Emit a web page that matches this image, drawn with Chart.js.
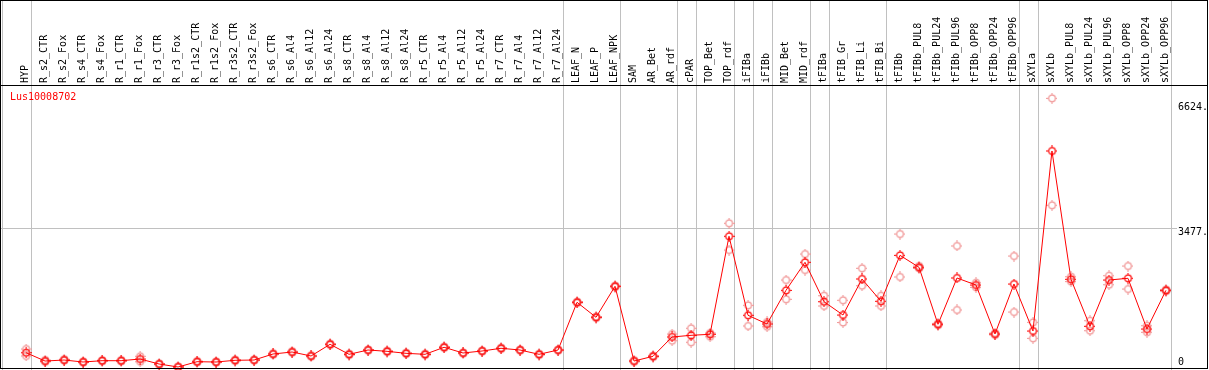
<!DOCTYPE html>
<html>
<head>
<meta charset="utf-8">
<script src="https://cdn.jsdelivr.net/npm/chart.js@4.4.1/dist/chart.umd.min.js"></script>
<style>
  body { margin: 0; background: #fff; }
  #wrap { width: 1209px; height: 370px; }
</style>
</head>
<body>
<div id="wrap"><canvas id="chart" width="1209" height="370"></canvas></div>
<script>
const geneName = 'Lus10008702';

const categories = [
  'HYP', 'R_s2_CTR', 'R_s2_Fox', 'R_s4_CTR', 'R_s4_Fox', 'R_r1_CTR', 'R_r1_Fox', 'R_r3_CTR', 'R_r3_Fox',
  'R_r1s2_CTR', 'R_r1s2_Fox', 'R_r3s2_CTR', 'R_r3s2_Fox', 'R_s6_CTR', 'R_s6_Al4', 'R_s6_Al12', 'R_s6_Al24',
  'R_s8_CTR', 'R_s8_Al4', 'R_s8_Al12', 'R_s8_Al24', 'R_r5_CTR', 'R_r5_Al4', 'R_r5_Al12', 'R_r5_Al24',
  'R_r7_CTR', 'R_r7_Al4', 'R_r7_Al12', 'R_r7_Al24', 'LEAF_N', 'LEAF_P', 'LEAF_NPK', 'SAM', 'AR_Bet', 'AR_rdf',
  'cPAR', 'TOP_Bet', 'TOP_rdf', 'iFIBa', 'iFIBb', 'MID_Bet', 'MID_rdf', 'tFIBa', 'tFIB_Gr', 'tFIB_Li', 'tFIB_Bi',
  'tFIBb', 'tFIBb_PUL8', 'tFIBb_PUL24', 'tFIBb_PUL96', 'tFIBb_OPP8', 'tFIBb_OPP24', 'tFIBb_OPP96',
  'sXYLa', 'sXYLb', 'sXYLb_PUL8', 'sXYLb_PUL24', 'sXYLb_PUL96', 'sXYLb_OPP8', 'sXYLb_OPP24', 'sXYLb_OPP96'
];

// mean expression (red line)
const meanValues = [
  358, 150, 175, 125, 158, 158, 200, 75, 0,
  133, 125, 168, 175, 326, 376, 276, 569,
  318, 426, 393, 343, 318, 494, 351, 401,
  469, 426, 318, 426, 1622, 1246, 2023, 150, 268, 752,
  794, 820, 3276, 1296, 1078, 1922, 2624, 1637, 1303, 2206, 1647,
  2799, 2499, 1070, 2231, 2055, 827, 2080,
  902, 5414, 2198, 1020, 2180, 2223, 952, 1922
];

// replicates (pink circles)
const rep1 = [
  451, 175, 195, 140, 170, 175, 268, 90, 15,
  150, 140, 185, 190, 345, 395, 295, 585,
  335, 440, 410, 360, 335, 510, 365, 415,
  485, 440, 335, 440, 1640, 1265, 2040, 170, 285, 827,
  970, 852, 3602, 1546, 1128, 2180, 2832, 1787, 1672, 2474, 1787,
  3333, 2530, 1095, 3033, 2113, 850, 2782,
  1120, 6734, 2263, 1160, 2288, 2531, 1035, 1945
];
const rep2 = [
  276, 130, 160, 110, 145, 140, 132, 60, 0,
  118, 110, 150, 160, 310, 360, 260, 552,
  300, 410, 376, 326, 300, 478, 336, 386,
  452, 410, 300, 410, 1605, 1228, 2005, 130, 250, 659,
  619, 759, 2932, 1028, 1010, 1697, 2431, 1529, 1115, 2038, 1529,
  2256, 2470, 1045, 1429, 1997, 805, 1378,
  719, 4053, 2140, 910, 2063, 1955, 870, 1900
];

// index of the last category in each group (separator lines)
const groupEnds = [0, 28, 31, 34, 35, 37, 38, 39, 41, 42, 45, 52, 53, 60];
const axisTicks = [6624, 3477, 0];
const gridValues = [3477];

// small open circle with four tick marks
function markerImage(color) {
  const c = document.createElement('canvas');
  c.width = 11; c.height = 11;
  const g = c.getContext('2d');
  g.strokeStyle = color;
  g.lineWidth = 1.2;
  g.beginPath();
  g.arc(5.5, 5.5, 3.4, 0, Math.PI * 2);
  g.stroke();
  g.lineWidth = 1;
  g.beginPath();
  g.moveTo(5.5, 0); g.lineTo(5.5, 1.8);
  g.moveTo(5.5, 9.2); g.lineTo(5.5, 11);
  g.moveTo(0, 5.5); g.lineTo(1.8, 5.5);
  g.moveTo(9.2, 5.5); g.lineTo(11, 5.5);
  g.stroke();
  return c;
}

const redMark = markerImage('#ff0000');
const pinkMark = markerImage('#f09494');

const toPoints = (arr) => arr.map((v, i) => ({ x: i, y: v }));

const FONT = '10px "DejaVu Sans Mono", monospace';

const framePlugin = {
  id: 'frame',
  beforeDatasetsDraw(c) {
    const ctx = c.ctx;
    const xs = c.scales.x, ys = c.scales.y;
    const area = c.chartArea;
    ctx.save();
    ctx.strokeStyle = '#c0c0c0';
    ctx.lineWidth = 1;
    // separators between sample groups
    const seps = [-1.25].concat(groupEnds.map(i => i + 0.25));
    seps.forEach(v => {
      const px = Math.round(xs.getPixelForValue(v)) + 0.5;
      ctx.beginPath();
      ctx.moveTo(px, 0);
      ctx.lineTo(px, c.height);
      ctx.stroke();
    });
    gridValues.forEach(v => {
      const py = Math.round(ys.getPixelForValue(v)) + 0.5;
      ctx.beginPath();
      ctx.moveTo(area.left, py);
      ctx.lineTo(1177, py);
      ctx.stroke();
    });
    ctx.restore();
  },
  afterDraw(c) {
    const ctx = c.ctx;
    const xs = c.scales.x, ys = c.scales.y;
    ctx.save();
    ctx.font = FONT;
    ctx.fillStyle = '#000';
    // rotated sample labels
    categories.forEach((name, i) => {
      const px = xs.getPixelForValue(i);
      ctx.save();
      ctx.translate(px - 0.5, 83);
      ctx.rotate(-Math.PI / 2);
      ctx.textAlign = 'left';
      ctx.textBaseline = 'middle';
      ctx.fillText(name, 0, 0);
      ctx.restore();
    });
    // right-hand value labels
    ctx.textAlign = 'left';
    ctx.textBaseline = 'middle';
    axisTicks.forEach(v => {
      let py = ys.getPixelForValue(v) + 4.5;
      if (v === 0) py = ys.getPixelForValue(v) - 5;
      ctx.fillText(v === 0 ? '0' : v + '.', 1178, py);
    });
    // gene name
    ctx.fillStyle = '#ff0000';
    ctx.fillText(geneName, 10, 97);
    // black frame
    ctx.strokeStyle = '#000';
    ctx.lineWidth = 1;
    ctx.beginPath();
    ctx.moveTo(0, 0.5); ctx.lineTo(1208, 0.5);
    ctx.moveTo(0, 85.5); ctx.lineTo(1208, 85.5);
    ctx.moveTo(0, 368.5); ctx.lineTo(1208, 368.5);
    ctx.moveTo(0.5, 0); ctx.lineTo(0.5, 369);
    ctx.moveTo(1207.5, 0); ctx.lineTo(1207.5, 369);
    ctx.stroke();
    ctx.restore();
  }
};

new Chart(document.getElementById('chart'), {
  type: 'scatter',
  data: {
    datasets: [
      {
        label: 'mean',
        data: toPoints(meanValues),
        showLine: true,
        borderColor: '#ff0000',
        borderWidth: 1,
        pointStyle: redMark,
        order: 0
      },
      {
        label: 'rep1',
        data: toPoints(rep1),
        showLine: false,
        pointStyle: pinkMark,
        order: 1
      },
      {
        label: 'rep2',
        data: toPoints(rep2),
        showLine: false,
        pointStyle: pinkMark,
        order: 1
      }
    ]
  },
  options: {
    responsive: false,
    animation: false,
    clip: false,
    layout: { autoPadding: false, padding: { left: 1, right: 2, top: 86, bottom: 2 } },
    scales: {
      x: { type: 'linear', display: false, min: -1.32, max: 62.16 },
      y: { type: 'linear', display: false, min: -25, max: 7043 }
    },
    plugins: {
      legend: { display: false },
      tooltip: { enabled: false }
    }
  },
  plugins: [framePlugin]
});
</script>
</body>
</html>
